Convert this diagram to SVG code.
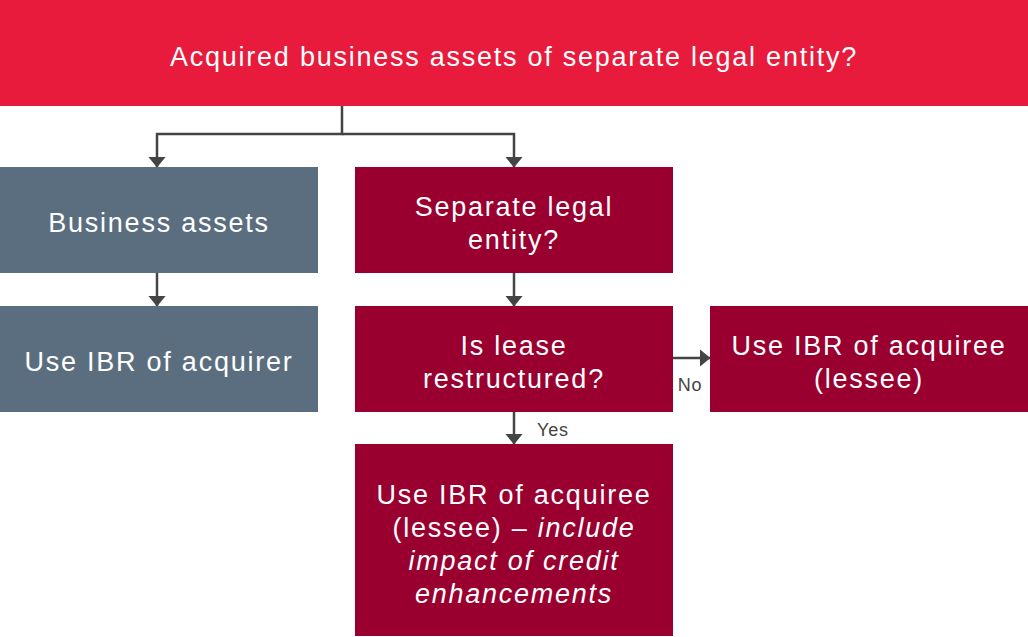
<svg xmlns="http://www.w3.org/2000/svg" width="1028" height="637" viewBox="0 0 1028 637">
<defs>
<style>
.t{font-family:"Liberation Sans",Arial,sans-serif;font-size:27px;letter-spacing:1.75px;fill:#fff;text-anchor:middle}
.i{font-style:italic}
.red{fill:#E81B3C}
.dark{fill:#99002F}
.grey{fill:#5B6E7F}
.ln{stroke:#444;stroke-width:2.5;fill:none}
.lab{font-family:"Liberation Sans",Arial,sans-serif;font-size:18px;letter-spacing:0.8px;fill:#444}
</style>
<marker id="ah" markerWidth="11" markerHeight="18" refX="10.5" refY="9" orient="auto" markerUnits="userSpaceOnUse" viewBox="0 0 11 18">
<path d="M0,0 L11,9 L0,18 Z" fill="#444"/>
</marker>
</defs>
<rect width="1028" height="637" fill="#fff"/>
<g id="connectors">
<path class="ln" d="M342,106 V134 H157 V167" marker-end="url(#ah)"/>
<path class="ln" d="M342,134 H514 V167" marker-end="url(#ah)"/>
<path class="ln" d="M157,273 V306" marker-end="url(#ah)"/>
<path class="ln" d="M514,273 V306" marker-end="url(#ah)"/>
<path class="ln" d="M514,412 V444" marker-end="url(#ah)"/>
<path class="ln" d="M673,358 H710" marker-end="url(#ah)"/>
<text class="lab" x="690" y="391" text-anchor="middle">No</text>
<text class="lab" x="537" y="436">Yes</text>
</g>
<g id="top">
<rect class="red" x="0" y="0" width="1028" height="106"/>
<text class="t" x="514" y="66">Acquired business assets of separate legal entity?</text>
</g>
<g id="business-assets">
<rect class="grey" x="0" y="167" width="318" height="106"/>
<text class="t" x="159" y="232">Business assets</text>
</g>
<g id="separate-entity">
<rect class="dark" x="355" y="167" width="318" height="106"/>
<text class="t" x="514" y="216">Separate legal</text>
<text class="t" x="514" y="249">entity?</text>
</g>
<g id="ibr-acquirer">
<rect class="grey" x="0" y="306" width="318" height="106"/>
<text class="t" x="159" y="371">Use IBR of acquirer</text>
</g>
<g id="lease-restructured">
<rect class="dark" x="355" y="306" width="318" height="106"/>
<text class="t" x="514" y="355">Is lease</text>
<text class="t" x="514" y="388">restructured?</text>
</g>
<g id="ibr-acquiree">
<rect class="dark" x="710" y="306" width="318" height="106"/>
<text class="t" x="869" y="355">Use IBR of acquiree</text>
<text class="t" x="869" y="388">(lessee)</text>
</g>
<g id="ibr-acquiree-credit">
<rect class="dark" x="355" y="444" width="318" height="192"/>
<text class="t" x="514" y="504">Use IBR of acquiree</text>
<text class="t" x="514" y="537">(lessee) – <tspan class="i">include</tspan></text>
<text class="t i" x="514" y="570">impact of credit</text>
<text class="t i" x="514" y="603">enhancements</text>
</g>
</svg>
